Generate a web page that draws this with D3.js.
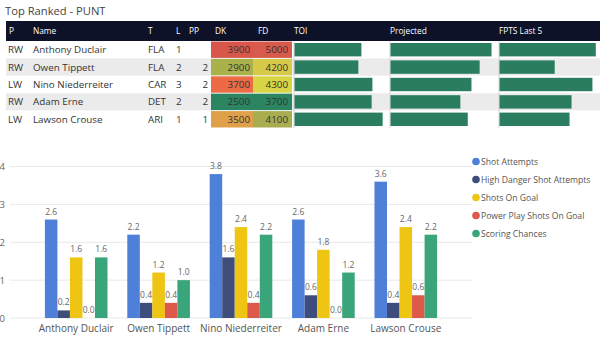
<!DOCTYPE html>
<html>
<head>
<meta charset="utf-8">
<script src="https://cdn.jsdelivr.net/npm/d3@7"></script>
<style>
  body { margin: 0; background: #fff; }
  svg { display: block; font-family: "Open Sans", "Noto Sans", sans-serif; }
</style>
</head>
<body>
<div id="chart"></div>
<script>
// table data
var positions = ["RW", "RW", "LW", "RW", "LW"];
var players = ["Anthony Duclair", "Owen Tippett", "Nino Niederreiter", "Adam Erne", "Lawson Crouse"];
var teams = ["FLA", "FLA", "CAR", "DET", "ARI"];
var lines = ["1", "2", "3", "2", "1"];
var ppUnits = ["", "2", "2", "2", "1"];
var dkSalary = [3900, 2900, 3700, 2500, 3500];
var fdSalary = [5000, 4200, 4300, 3700, 4100];
var toi = [17.6, 16.8, 20.5, 20.3, 23.2];
var projected = [13.6, 12.0, 10.9, 9.4, 10.4];
var fptsLast5 = [14.3, 8.2, 13.8, 10.7, 10.4];

// bar chart data
var seriesNames = ["Shot Attempts", "High Danger Shot Attempts", "Shots On Goal", "Power Play Shots On Goal", "Scoring Chances"];
var shotAttempts = [2.6, 2.2, 3.8, 2.6, 3.6];
var highDanger = [0.2, 0.4, 1.6, 0.6, 0.4];
var shotsOnGoal = [1.6, 1.2, 2.4, 1.8, 2.4];
var ppShotsOnGoal = [0.0, 0.4, 0.4, 0.0, 0.6];
var scoringChances = [1.6, 1.0, 2.2, 1.2, 2.2];
var yTicks = [0, 1, 2, 3, 4];

var seriesColors = ["#4e7fd9", "#3e4d7c", "#eec513", "#dd5a4b", "#3aa57a"];
// conditional formatting colours of the salary cells
var dkColorMap = ["#d9574a", "#a9b24a", "#ec6b45", "#2b8560", "#e0a04a"];
var fdColorMap = ["#d85a4c", "#d6c94a", "#d8d544", "#2b8560", "#a8ad50"];

var svg = d3.select("#chart").append("svg")
    .attr("width", 600).attr("height", 339);

// ---- title
svg.append("text").attr("x", 5).attr("y", 15)
    .attr("font-size", 11.2).attr("fill", "#444")
    .text("Top Ranked - PUNT");

// ---- table
var rowY = d3.scaleBand().domain(players).range([41, 128]);

svg.append("rect").attr("x", 6).attr("y", 21).attr("width", 594).attr("height", 20)
    .attr("fill", "#0e1228");

var headers = [["P", 9], ["Name", 33], ["T", 148], ["L", 176], ["PP", 189], ["DK", 215], ["FD", 258],
               ["TOI", 294], ["Projected", 390], ["FPTS Last 5", 499]];
svg.selectAll(".hdr").data(headers).enter().append("text")
    .attr("x", function(d) { return d[1]; })
    .attr("y", 34)
    .attr("font-size", 8.3).attr("fill", "#fff")
    .text(function(d) { return d[0]; });

svg.selectAll(".rowbg").data(players).enter().append("rect")
    .attr("x", 6).attr("y", function(d) { return rowY(d); })
    .attr("width", 594).attr("height", rowY.bandwidth())
    .attr("fill", function(d, i) { return i % 2 ? "#ebebeb" : "#fff"; });

function rowText(arr, x, anchor) {
    svg.append("g").selectAll("text").data(arr).enter().append("text")
        .attr("x", x)
        .attr("y", function(d, i) { return rowY(players[i]) + rowY.bandwidth() / 2 + 3.5; })
        .attr("text-anchor", anchor || "start")
        .attr("font-size", 9.8).attr("fill", "#333")
        .text(function(d) { return d; });
}
rowText(positions, 8);
rowText(players, 33);
rowText(teams, 148);
rowText(lines, 176);
rowText(ppUnits, 208, "end");

svg.append("g").selectAll("rect").data(dkSalary).enter().append("rect")
    .attr("x", 211).attr("width", 42)
    .attr("y", function(d, i) { return rowY(players[i]) + 0.5; })
    .attr("height", rowY.bandwidth() - 1)
    .attr("fill", function(d, i) { return dkColorMap[i]; });
svg.append("g").selectAll("rect").data(fdSalary).enter().append("rect")
    .attr("x", 253).attr("width", 39)
    .attr("y", function(d, i) { return rowY(players[i]) + 0.5; })
    .attr("height", rowY.bandwidth() - 1)
    .attr("fill", function(d, i) { return fdColorMap[i]; });
rowText(dkSalary, 250, "end");
rowText(fdSalary, 288, "end");

// data bars
function dataBars(values, x0, width, max) {
    var xs = d3.scaleLinear().domain([0, max]).range([x0, x0 + width]);
    svg.append("line").attr("x1", x0).attr("x2", x0).attr("y1", 41).attr("y2", 128)
        .attr("stroke", "#ccc").attr("stroke-width", 0.8);
    svg.append("g").selectAll("rect").data(values).enter().append("rect")
        .attr("x", x0 + 0.5)
        .attr("y", function(d, i) { return rowY(players[i]) + 2; })
        .attr("width", function(d) { return xs(d) - x0; })
        .attr("height", rowY.bandwidth() - 4)
        .attr("fill", "#2a7d5f");
}
dataBars(toi, 294, 95, 25);
dataBars(projected, 390, 104, 14);
dataBars(fptsLast5, 499, 101, 15);

// ---- clustered column chart
var x0 = d3.scaleBand().domain(players).range([35, 447]).paddingInner(0.24).paddingOuter(0.12);
var x1 = d3.scaleBand().domain(seriesNames).range([0, x0.bandwidth()]);
var y = d3.scaleLinear().domain([0, 4]).range([318, 166.5]);

svg.append("g").selectAll("line").data(yTicks).enter().append("line")
    .attr("x1", 10).attr("x2", 472)
    .attr("y1", function(d) { return y(d); }).attr("y2", function(d) { return y(d); })
    .attr("stroke", "#e8e8e8").attr("stroke-width", 1);
svg.append("g").selectAll("text").data(yTicks).enter().append("text")
    .attr("x", 5).attr("y", function(d) { return y(d) + 3.5; })
    .attr("text-anchor", "end").attr("font-size", 9.5).attr("fill", "#666")
    .text(function(d) { return d; });

var seriesValues = [shotAttempts, highDanger, shotsOnGoal, ppShotsOnGoal, scoringChances];
var bars = [];
seriesValues.forEach(function(vals, s) {
    vals.forEach(function(v, i) { bars.push({ player: players[i], series: seriesNames[s], s: s, v: v }); });
});

svg.append("g").selectAll("rect").data(bars).enter().append("rect")
    .attr("x", function(d) { return x0(d.player) + x1(d.series); })
    .attr("width", x1.bandwidth())
    .attr("y", function(d) { return y(d.v); })
    .attr("height", function(d) { return y(0) - y(d.v); })
    .attr("fill", function(d) { return seriesColors[d.s]; });

svg.append("g").selectAll("text").data(bars).enter().append("text")
    .attr("x", function(d) { return x0(d.player) + x1(d.series) + x1.bandwidth() / 2; })
    .attr("y", function(d) { return y(d.v) - 5; })
    .attr("text-anchor", "middle").attr("font-size", 8.5).attr("fill", "#666")
    .text(function(d) { return d.v.toFixed(1); });

svg.append("g").selectAll("text").data(players).enter().append("text")
    .attr("x", function(d) { return x0(d) + x0.bandwidth() / 2; })
    .attr("y", 332)
    .attr("text-anchor", "middle").attr("font-size", 10).attr("fill", "#555")
    .text(function(d) { return d; });

// legend
var legend = svg.append("g").selectAll("g").data(seriesNames).enter().append("g")
    .attr("transform", function(d, i) { return "translate(476," + (161.5 + i * 18) + ")"; });
legend.append("circle").attr("r", 3.8).attr("fill", function(d, i) { return seriesColors[i]; });
legend.append("text").attr("x", 5).attr("y", 3.3)
    .attr("font-size", 8.6).attr("fill", "#555")
    .text(function(d) { return d; });
</script>
</body>
</html>
